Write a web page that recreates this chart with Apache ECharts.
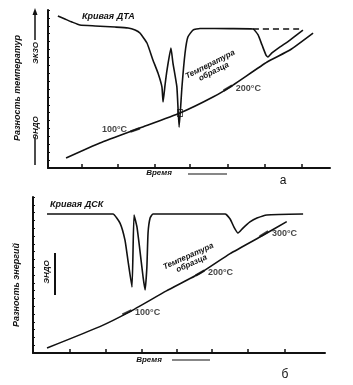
<!DOCTYPE html>
<html>
<head>
<meta charset="utf-8">
<style>
  html, body { margin: 0; padding: 0; background: #fff; }
  #main { width: 353px; height: 385px; }
</style>
<script src="https://cdn.jsdelivr.net/npm/echarts@6/dist/echarts.min.js"></script>
</head>
<body>
<div id="main"></div>
<script>
// время и сигнал в условных единицах (0..100 по каждой оси)
var dtaCurve = [
  [3.5, 96.2], [6.0, 94.3], [8.5, 92.4], [11.3, 90.5], [16.7, 89.9], [23.8, 89.2],
  [28.4, 88.6], [30.9, 87.3], [32.6, 85.4], [35.1, 79.1], [37.2, 68.4], [39.0, 60.1],
  [40.4, 51.3], [40.8, 41.8], [41.5, 52.5], [42.2, 62.0], [43.6, 75.9], [44.3, 66.5],
  [45.7, 51.3], [46.5, 25.9], [47.5, 51.3], [48.6, 72.8], [49.6, 82.9], [51.4, 87.3],
  [53.9, 88.3], [64.5, 88.2], [72.7, 88.0], [74.5, 84.2], [75.9, 77.8], [77.3, 71.5],
  [78.0, 70.3], [79.4, 72.8], [82.3, 76.6], [85.8, 81.0], [90.4, 87.3]
];
var dtaBase = [[72.7, 88.0], [90.4, 88.0]];
var tempA = [
  [6.4, 6.3], [18.4, 15.8], [32.6, 25.3], [46.8, 34.8], [58.5, 44.9],
  [65.6, 52.5], [77.7, 67.1], [85.8, 74.7], [94.0, 85.4]
];
var tempMarksA = [[30.9, 24.1, '100°C', 'left', 20], [63.8, 50.6, '200°C', 'right', 31]];
var ticksA = [12.1, 24.8, 37.9, 50.4, 63.8, 77.0, 90.1];

var dscCurve = [
  [4.8, 89.1], [24.7, 89.1], [27.4, 89.1], [29.8, 83.3], [31.5, 72.4], [32.5, 59.6],
  [33.9, 42.3], [34.6, 88.5], [35.6, 80.8], [36.6, 66.0], [37.7, 48.7], [38.4, 40.4],
  [39.0, 55.1], [39.4, 76.9], [40.1, 86.5], [41.1, 89.1], [65.8, 89.1], [67.5, 85.9],
  [68.8, 80.8], [70.2, 76.9], [71.9, 80.1], [74.3, 84.0], [76.7, 86.5], [80.1, 88.5],
  [92.5, 89.1]
];
var tempB = [
  [4.8, 3.2], [22.9, 16.9], [33.2, 26.5], [45.7, 39.8], [57.2, 51.1],
  [67.5, 63.7], [78.9, 75.6], [86.9, 84.2]
];
var tempMarksB = [[32.2, 26.0, '100°C', 'right', 25], [57.2, 51.3, '200°C', 'right', 30], [79.1, 76.3, '300°C', 'right', 31]];
var ticksB = [12.7, 25.0, 37.3, 49.3, 61.3, 73.6, 86.3];

var ink = '#111';
var font = 'Liberation Sans';

function xAx(idx, ticks) {
  return {
    gridIndex: idx, type: 'value', min: 0, max: 100,
    axisLine: { lineStyle: { color: ink, width: 2 } },
    axisTick: { show: true, inside: true, length: 4, customValues: ticks, lineStyle: { color: ink, width: 1.5 } },
    axisLabel: { show: false },
    splitLine: { show: false }
  };
}
function yAx(idx) {
  return {
    gridIndex: idx, type: 'value', min: 0, max: 100, interval: 5,
    axisLine: { show: true, lineStyle: { color: ink, width: 2 } },
    axisTick: { show: true, inside: true, length: 2, lineStyle: { color: ink } },
    axisLabel: { show: false },
    splitLine: { show: false }
  };
}
function curve(idx, data, dashed) {
  return {
    type: 'line', xAxisIndex: idx, yAxisIndex: idx, data: data,
    showSymbol: false, smooth: 0.15, silent: true,
    lineStyle: { color: ink, width: 1.6, type: dashed ? [6, 4] : 'solid' }
  };
}
function marks(idx, list) {
  return {
    type: 'scatter', xAxisIndex: idx, yAxisIndex: idx, silent: true,
    data: list.map(function (m) {
      return {
        value: [m[0], m[1]], symbolRotate: m[4],
        label: { show: true, formatter: m[2], position: m[3], distance: 3 }
      };
    }),
    symbol: 'rect', symbolSize: [10, 2.5],
    itemStyle: { color: ink },
    label: { color: ink, fontFamily: font, fontSize: 9, fontWeight: 'bold' }
  };
}
function txt(x, y, s, opt) {
  opt = opt || {};
  return {
    type: 'text', x: x, y: y, rotation: opt.rot || 0,
    style: {
      text: s, fill: ink, align: opt.align || 'center', verticalAlign: 'middle',
      font: (opt.style || 'italic bold') + ' ' + (opt.size || 8) + 'px "' + font + '"'
    }
  };
}
function seg(x1, y1, x2, y2, w) {
  return { type: 'line', shape: { x1: x1, y1: y1, x2: x2, y2: y2 }, style: { stroke: ink, lineWidth: w || 1.5 } };
}

var chart = echarts.init(document.getElementById('main'));
chart.setOption({
  backgroundColor: '#fff',
  animation: false,
  grid: [
    { left: 48, top: 10, width: 282, height: 158 },
    { left: 33, top: 197, width: 292, height: 156 }
  ],
  xAxis: [xAx(0, ticksA), xAx(1, ticksB)],
  yAxis: [yAx(0), yAx(1)],
  series: [
    curve(0, dtaCurve), curve(0, dtaBase, true), curve(0, tempA),
    {
      type: 'scatter', xAxisIndex: 0, yAxisIndex: 0, silent: true,
      data: [[46.8, 34.8]], symbol: 'rect', symbolSize: [5, 7],
      itemStyle: { color: '#fff', borderColor: ink, borderWidth: 1 }
    },
    marks(0, tempMarksA),
    curve(1, dscCurve), curve(1, tempB),
    marks(1, tempMarksB)
  ],
  graphic: [
    txt(82, 17, 'Кривая ДТА', { align: 'left', size: 9 }),
    txt(50, 205, 'Кривая ДСК', { align: 'left', size: 9 }),
    txt(212, 68, 'Температура\nобразца', { rot: 0.47, size: 8 }),
    txt(190, 260, 'Температура\nобразца', { rot: 0.42, size: 8 }),
    txt(18, 88, 'Разность температур', { rot: Math.PI / 2, size: 9 }),
    txt(17, 285, 'Разность энергий', { rot: Math.PI / 2, size: 9 }),
    txt(36, 53, 'ЭКЗО', { rot: Math.PI / 2, size: 8 }),
    txt(36, 128, 'ЭНДО', { rot: Math.PI / 2, size: 8 }),
    seg(35, 14, 35, 40, 1.5),
    { type: 'polygon', shape: { points: [[35, 8], [32.5, 15], [37.5, 15]] }, style: { fill: ink } },
    seg(35, 137, 35, 165, 1.5),
    txt(47, 272, 'ЭНДО', { rot: Math.PI / 2, size: 8 }),
    seg(55, 253, 55, 295, 2),
    txt(159, 173, 'Время', { size: 8 }),
    seg(188, 174, 227, 174, 1.2),
    txt(149, 360, 'Время', { size: 8 }),
    seg(172, 360, 210, 360, 1.2),
    txt(283, 181, 'а', { style: 'normal', size: 12 }),
    txt(285, 375, 'б', { style: 'normal', size: 12 })
  ]
});
</script>
</body>
</html>
